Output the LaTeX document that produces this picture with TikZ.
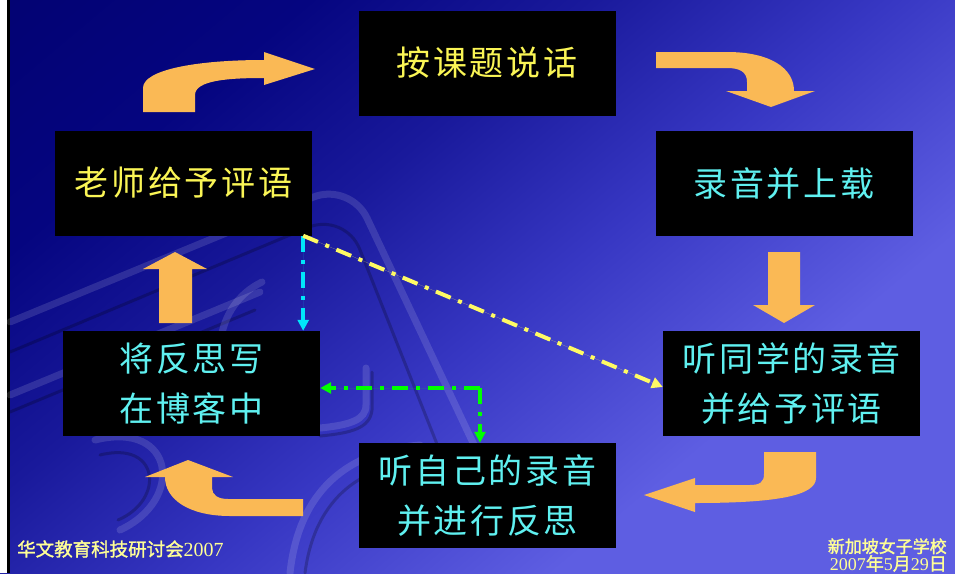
\documentclass[tikz,border=0pt]{standalone}
\usepackage{fontspec}
\newfontfamily\cjkbox{Noto Sans CJK SC}[LetterSpace=8]
\newfontfamily\cjkfoot{Noto Sans CJK SC}[FakeBold=1.5]
\newfontfamily\digfoot{Liberation Serif}
\usetikzlibrary{arrows.meta}
\definecolor{bgdark}{RGB}{0,0,100}
\definecolor{bgdark2}{RGB}{5,5,128}
\definecolor{bgmid}{RGB}{25,25,155}
\definecolor{bgmid2}{RGB}{55,55,195}
\definecolor{bglight}{RGB}{94,94,226}
\definecolor{txtyellow}{RGB}{250,245,85}
\definecolor{txtcyan}{RGB}{95,240,240}
\definecolor{orangearrow}{RGB}{250,185,85}
\definecolor{lncyan}{RGB}{0,230,250}
\definecolor{lnyellow}{RGB}{255,250,100}
\definecolor{lngreen}{RGB}{0,255,0}
\definecolor{foottxt}{RGB}{255,255,150}
\pgfdeclareverticalshading{bgshade}{100bp}{color(0bp)=(bglight); color(32bp)=(bglight); color(47bp)=(bgmid2); color(60bp)=(bgmid); color(72bp)=(bgdark2); color(100bp)=(bgdark)}
\begin{document}
\begin{tikzpicture}[x=1pt,y=-1pt,
  box/.style={fill=black, minimum width=257pt, minimum height=105pt, inner sep=0pt, align=center},
  yeltext/.style={text=txtyellow, font=\cjkbox\fontsize{34}{50}\selectfont},
  cyantext/.style={text=txtcyan, font=\cjkbox\fontsize{34}{50}\selectfont},
  blockarrow/.style={fill=orangearrow},
  dashdot/.style={line width=4pt, dash pattern=on 16pt off 8pt on 4pt off 8pt, -{Triangle[length=11pt,width=11pt]}},
  decohi/.style={draw=white, opacity=0.13, line width=7pt, line cap=round},
  decosh/.style={draw=black, opacity=0.22, line width=3pt, line cap=round},
  foot/.style={text=foottxt, inner sep=0pt},
]
\useasboundingbox (0,0) rectangle (955,573);
\clip (0,0) rectangle (955,573);
\shade[shading=bgshade, shading angle=40] (0,0) rectangle (955,573);
% left edge
\fill[white] (0,0) rectangle (7,573);
\fill[black] (7,0) rectangle (10,573);
% background embossed decoration
\draw[decohi, rounded corners=40pt] (10,322) -- (350,182) -- (500,500);
\draw[decosh, rounded corners=40pt] (10,352) -- (345,212) -- (475,540);
\draw[decohi, rounded corners=30pt] (10,395) -- (260,292);
\draw[decosh, rounded corners=30pt] (10,412) -- (255,310);
\draw[decohi] (95,440) .. controls (175,420) and (185,500) .. (120,530);
\draw[decosh] (100,455) .. controls (160,440) and (165,500) .. (118,520);
\draw[decohi] (290,573) .. controls (300,480) and (360,450) .. (420,445);
\draw[decosh] (305,573) .. controls (315,495) and (365,465) .. (420,462);
\draw[decohi] (366,368) -- (366,405) .. controls (366,420) and (350,425) .. (320,428);
\draw[decosh] (372,372) -- (372,410) .. controls (370,428) and (352,433) .. (320,436);
\draw[decohi] (262,282) .. controls (225,300) and (215,340) .. (222,370);
% boxes
\node[box, yeltext] (topic) at (487,63) {按课题说话};
\node[box, yeltext] (teacher) at (183.5,183) {老师给予评语};
\node[box, cyantext] (upload) at (784,183.5) {录音并上载};
\node[box, cyantext] (peer) at (791.5,383.5) {听同学的录音\\并给予评语};
\node[box, cyantext] (self) at (487.5,495.5) {听自己的录音\\并进行反思};
\node[box, cyantext] (blog) at (191.5,383.5) {将反思写\\在博客中};
% orange block arrows
\fill[blockarrow] (143,112) -- (143,88) .. controls (143,70) and (195,60) .. (264,60) -- (264,52) -- (315,69) -- (264,85) -- (264,78) .. controls (230,78) and (195,80) .. (195,95) -- (195,112) -- cycle;
\fill[blockarrow] (656,52) -- (727,52) .. controls (770,52) and (794,68) .. (794,91) -- (815,91) -- (771,107) -- (726,91) -- (747,91) -- (747,82) .. controls (747,72) and (740,68) .. (727,68) -- (656,68) -- cycle;
\fill[blockarrow] (768,252) -- (800,252) -- (800,305) -- (815,305) -- (784,323) -- (753,305) -- (768,305) -- cycle;
\fill[blockarrow] (764,452) -- (816,452) -- (816,478) .. controls (816,495) and (780,503) .. (695,503) -- (695,512) -- (644,495) -- (695,478) -- (695,485) -- (750,485) .. controls (760,485) and (764,482) .. (764,474) -- cycle;
\fill[blockarrow] (303,499) -- (303,516) -- (230,516) .. controls (190,516) and (165,500) .. (165,477) -- (145,477) -- (188,460) -- (233,477) -- (212,477) -- (212,488) .. controls (212,495) and (218,499) .. (228,499) -- cycle;
\fill[blockarrow] (159,323) -- (159,269) -- (143,269) -- (175,252) -- (207,269) -- (192,269) -- (192,323) -- cycle;
% dash-dot connectors
\coordinate (tS) at ([xshift=-9pt]teacher.south east);
\coordinate (bN) at (tS |- blog.north);
\coordinate (pW) at ([yshift=-3.5pt]peer.west);
\coordinate (bE) at ([yshift=-4.5pt]blog.east);
\coordinate (sN) at ([xshift=-7.5pt]self.north);
\coordinate (gj) at (sN |- bE);
\draw[dashdot, draw=lncyan, fill=lncyan] (tS) -- (bN);
\draw[dashdot, draw=lnyellow, fill=lnyellow] (tS) -- (pW);
\draw[dashdot, draw=lngreen, fill=lngreen] (gj) -- (bE);
\draw[dashdot, draw=lngreen, fill=lngreen] (gj) -- (sN);
% footers
\node[foot, anchor=west] (footL) at (17,549) {\cjkfoot\fontsize{18.5}{22}\selectfont 华文教育科技研讨会\digfoot\fontsize{20}{22}\selectfont 2007};
\node[foot, anchor=south east, align=right] (footR) at (947,572) {\cjkfoot\fontsize{17}{20}\selectfont 新加坡女子学校\\\digfoot\fontsize{18}{20}\selectfont 2007\cjkfoot 年\digfoot 5\cjkfoot 月\digfoot 29\cjkfoot 日};
\end{tikzpicture}
\end{document}
